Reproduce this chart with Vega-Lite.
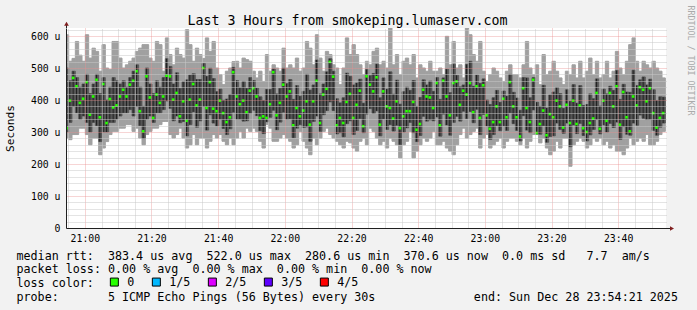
{
  "$schema": "https://vega.github.io/schema/vega-lite/v6.json",
  "width": 600,
  "height": 200,
  "autosize": {"type": "none"},
  "padding": {"left": 66, "top": 28, "right": 31, "bottom": 82},
  "background": "#f2f2f2",
  "config": {
    "view": {"stroke": null, "fill": "#ffffff"},
    "font": "DejaVu Sans Mono",
    "axis": {"labelFont": "DejaVu Sans Mono", "titleFont": "DejaVu Sans Mono", "labelColor": "#000000", "titleColor": "#000000", "titleFontWeight": "normal", "tickSize": 0, "ticks": false}
  },
  "data": {"values": [
{"t":"2025-12-28T20:54:00Z","lo":281,"q1":300,"md":312,"q3":500,"hi":604,"loss":"0"},
{"t":"2025-12-28T20:55:00Z","lo":276,"q1":330,"md":398,"q3":460,"hi":521,"loss":"0"},
{"t":"2025-12-28T20:56:00Z","lo":292,"q1":380,"md":469,"q3":490,"hi":530,"loss":"0"},
{"t":"2025-12-28T20:57:00Z","lo":292,"q1":360,"md":443,"q3":470,"hi":583,"loss":"0"},
{"t":"2025-12-28T20:58:00Z","lo":312,"q1":340,"md":391,"q3":440,"hi":540,"loss":"0"},
{"t":"2025-12-28T20:59:00Z","lo":312,"q1":350,"md":404,"q3":450,"hi":521,"loss":"0"},
{"t":"2025-12-28T21:00:00Z","lo":292,"q1":330,"md":456,"q3":480,"hi":604,"loss":"0"},
{"t":"2025-12-28T21:01:00Z","lo":260,"q1":300,"md":354,"q3":420,"hi":531,"loss":"0"},
{"t":"2025-12-28T21:02:00Z","lo":281,"q1":330,"md":411,"q3":450,"hi":562,"loss":"0"},
{"t":"2025-12-28T21:03:00Z","lo":281,"q1":320,"md":463,"q3":480,"hi":552,"loss":"0"},
{"t":"2025-12-28T21:04:00Z","lo":229,"q1":270,"md":346,"q3":420,"hi":490,"loss":"0"},
{"t":"2025-12-28T21:05:00Z","lo":250,"q1":300,"md":450,"q3":470,"hi":573,"loss":"0"},
{"t":"2025-12-28T21:06:00Z","lo":270,"q1":300,"md":328,"q3":400,"hi":500,"loss":"0"},
{"t":"2025-12-28T21:07:00Z","lo":292,"q1":330,"md":403,"q3":440,"hi":495,"loss":"0"},
{"t":"2025-12-28T21:08:00Z","lo":302,"q1":330,"md":377,"q3":470,"hi":583,"loss":"0"},
{"t":"2025-12-28T21:09:00Z","lo":302,"q1":340,"md":383,"q3":460,"hi":583,"loss":"0"},
{"t":"2025-12-28T21:10:00Z","lo":312,"q1":350,"md":411,"q3":450,"hi":531,"loss":"0"},
{"t":"2025-12-28T21:11:00Z","lo":312,"q1":360,"md":432,"q3":460,"hi":500,"loss":"0"},
{"t":"2025-12-28T21:12:00Z","lo":323,"q1":360,"md":411,"q3":440,"hi":510,"loss":"0"},
{"t":"2025-12-28T21:13:00Z","lo":323,"q1":370,"md":448,"q3":470,"hi":521,"loss":"0"},
{"t":"2025-12-28T21:14:00Z","lo":302,"q1":350,"md":460,"q3":490,"hi":531,"loss":"0"},
{"t":"2025-12-28T21:15:00Z","lo":312,"q1":380,"md":490,"q3":510,"hi":552,"loss":"0"},
{"t":"2025-12-28T21:16:00Z","lo":281,"q1":320,"md":365,"q3":440,"hi":562,"loss":"0"},
{"t":"2025-12-28T21:17:00Z","lo":260,"q1":280,"md":302,"q3":380,"hi":573,"loss":"0"},
{"t":"2025-12-28T21:18:00Z","lo":292,"q1":340,"md":474,"q3":500,"hi":573,"loss":"0"},
{"t":"2025-12-28T21:19:00Z","lo":302,"q1":350,"md":408,"q3":450,"hi":531,"loss":"0"},
{"t":"2025-12-28T21:20:00Z","lo":312,"q1":330,"md":344,"q3":420,"hi":521,"loss":"0"},
{"t":"2025-12-28T21:21:00Z","lo":312,"q1":360,"md":417,"q3":460,"hi":583,"loss":"0"},
{"t":"2025-12-28T21:22:00Z","lo":323,"q1":360,"md":391,"q3":440,"hi":573,"loss":"0"},
{"t":"2025-12-28T21:23:00Z","lo":333,"q1":370,"md":411,"q3":470,"hi":490,"loss":"0"},
{"t":"2025-12-28T21:24:00Z","lo":333,"q1":397,"md":476,"q3":529,"hi":594,"loss":"0"},
{"t":"2025-12-28T21:25:00Z","lo":292,"q1":374,"md":474,"q3":505,"hi":542,"loss":"0"},
{"t":"2025-12-28T21:26:00Z","lo":281,"q1":335,"md":401,"q3":450,"hi":510,"loss":"0"},
{"t":"2025-12-28T21:27:00Z","lo":292,"q1":350,"md":422,"q3":485,"hi":562,"loss":"0"},
{"t":"2025-12-28T21:28:00Z","lo":312,"q1":329,"md":349,"q3":436,"hi":542,"loss":"0"},
{"t":"2025-12-28T21:29:00Z","lo":281,"q1":333,"md":396,"q3":457,"hi":531,"loss":"0"},
{"t":"2025-12-28T21:30:00Z","lo":250,"q1":288,"md":335,"q3":463,"hi":620,"loss":"0"},
{"t":"2025-12-28T21:31:00Z","lo":260,"q1":323,"md":401,"q3":478,"hi":573,"loss":"0"},
{"t":"2025-12-28T21:32:00Z","lo":292,"q1":363,"md":450,"q3":482,"hi":521,"loss":"0"},
{"t":"2025-12-28T21:33:00Z","lo":260,"q1":315,"md":383,"q3":464,"hi":562,"loss":"0"},
{"t":"2025-12-28T21:34:00Z","lo":281,"q1":335,"md":401,"q3":464,"hi":542,"loss":"0"},
{"t":"2025-12-28T21:35:00Z","lo":281,"q1":380,"md":500,"q3":514,"hi":530,"loss":"0"},
{"t":"2025-12-28T21:36:00Z","lo":250,"q1":306,"md":375,"q3":474,"hi":594,"loss":"0"},
{"t":"2025-12-28T21:37:00Z","lo":271,"q1":354,"md":456,"q3":499,"hi":552,"loss":"0"},
{"t":"2025-12-28T21:38:00Z","lo":292,"q1":328,"md":373,"q3":467,"hi":583,"loss":"0"},
{"t":"2025-12-28T21:39:00Z","lo":281,"q1":319,"md":365,"q3":426,"hi":500,"loss":"0"},
{"t":"2025-12-28T21:40:00Z","lo":292,"q1":340,"md":398,"q3":434,"hi":479,"loss":"0"},
{"t":"2025-12-28T21:41:00Z","lo":271,"q1":311,"md":359,"q3":399,"hi":448,"loss":"0"},
{"t":"2025-12-28T21:42:00Z","lo":260,"q1":292,"md":331,"q3":403,"hi":490,"loss":"0"},
{"t":"2025-12-28T21:43:00Z","lo":281,"q1":310,"md":346,"q3":417,"hi":500,"loss":"0"},
{"t":"2025-12-28T21:44:00Z","lo":260,"q1":362,"md":487,"q3":502,"hi":520,"loss":"0"},
{"t":"2025-12-28T21:45:00Z","lo":281,"q1":340,"md":411,"q3":461,"hi":521,"loss":"0"},
{"t":"2025-12-28T21:46:00Z","lo":302,"q1":340,"md":387,"q3":438,"hi":500,"loss":"0"},
{"t":"2025-12-28T21:47:00Z","lo":281,"q1":334,"md":398,"q3":458,"hi":531,"loss":"0"},
{"t":"2025-12-28T21:48:00Z","lo":312,"q1":335,"md":362,"q3":436,"hi":526,"loss":"0"},
{"t":"2025-12-28T21:49:00Z","lo":302,"q1":359,"md":429,"q3":470,"hi":521,"loss":"0"},
{"t":"2025-12-28T21:50:00Z","lo":312,"q1":368,"md":437,"q3":461,"hi":490,"loss":"0"},
{"t":"2025-12-28T21:51:00Z","lo":302,"q1":351,"md":411,"q3":437,"hi":469,"loss":"0"},
{"t":"2025-12-28T21:52:00Z","lo":271,"q1":304,"md":344,"q3":410,"hi":490,"loss":"0"},
{"t":"2025-12-28T21:53:00Z","lo":250,"q1":295,"md":349,"q3":398,"hi":458,"loss":"0"},
{"t":"2025-12-28T21:54:00Z","lo":323,"q1":332,"md":344,"q3":433,"hi":542,"loss":"0"},
{"t":"2025-12-28T21:55:00Z","lo":312,"q1":346,"md":387,"q3":433,"hi":490,"loss":"0"},
{"t":"2025-12-28T21:56:00Z","lo":271,"q1":368,"md":487,"q3":497,"hi":510,"loss":"0"},
{"t":"2025-12-28T21:57:00Z","lo":271,"q1":307,"md":352,"q3":419,"hi":500,"loss":"0"},
{"t":"2025-12-28T21:58:00Z","lo":281,"q1":331,"md":391,"q3":436,"hi":490,"loss":"0"},
{"t":"2025-12-28T21:59:00Z","lo":292,"q1":362,"md":448,"q3":499,"hi":562,"loss":"0"},
{"t":"2025-12-28T22:00:00Z","lo":281,"q1":340,"md":411,"q3":451,"hi":500,"loss":"0"},
{"t":"2025-12-28T22:01:00Z","lo":271,"q1":341,"md":427,"q3":464,"hi":510,"loss":"0"},
{"t":"2025-12-28T22:02:00Z","lo":250,"q1":282,"md":321,"q3":402,"hi":500,"loss":"0"},
{"t":"2025-12-28T22:03:00Z","lo":260,"q1":312,"md":375,"q3":445,"hi":531,"loss":"0"},
{"t":"2025-12-28T22:04:00Z","lo":302,"q1":323,"md":349,"q3":412,"hi":490,"loss":"0"},
{"t":"2025-12-28T22:05:00Z","lo":271,"q1":314,"md":367,"q3":427,"hi":500,"loss":"0"},
{"t":"2025-12-28T22:06:00Z","lo":250,"q1":316,"md":396,"q3":480,"hi":583,"loss":"0"},
{"t":"2025-12-28T22:07:00Z","lo":229,"q1":271,"md":323,"q3":431,"hi":562,"loss":"0"},
{"t":"2025-12-28T22:08:00Z","lo":281,"q1":333,"md":396,"q3":447,"hi":510,"loss":"0"},
{"t":"2025-12-28T22:09:00Z","lo":260,"q1":350,"md":460,"q3":525,"hi":604,"loss":"0"},
{"t":"2025-12-28T22:10:00Z","lo":281,"q1":302,"md":328,"q3":419,"hi":531,"loss":"0"},
{"t":"2025-12-28T22:11:00Z","lo":302,"q1":354,"md":417,"q3":450,"hi":490,"loss":"0"},
{"t":"2025-12-28T22:12:00Z","lo":312,"q1":367,"md":435,"q3":488,"hi":552,"loss":"0"},
{"t":"2025-12-28T22:13:00Z","lo":292,"q1":394,"md":519,"q3":529,"hi":542,"loss":"0"},
{"t":"2025-12-28T22:14:00Z","lo":281,"q1":367,"md":473,"q3":490,"hi":510,"loss":"0"},
{"t":"2025-12-28T22:15:00Z","lo":271,"q1":294,"md":321,"q3":404,"hi":500,"loss":"0"},
{"t":"2025-12-28T22:16:00Z","lo":260,"q1":298,"md":344,"q3":391,"hi":448,"loss":"0"},
{"t":"2025-12-28T22:17:00Z","lo":250,"q1":285,"md":328,"q3":407,"hi":500,"loss":"0"},
{"t":"2025-12-28T22:18:00Z","lo":271,"q1":326,"md":394,"q3":484,"hi":594,"loss":"0"},
{"t":"2025-12-28T22:19:00Z","lo":266,"q1":335,"md":419,"q3":474,"hi":542,"loss":"0"},
{"t":"2025-12-28T22:20:00Z","lo":250,"q1":292,"md":344,"q3":447,"hi":573,"loss":"0"},
{"t":"2025-12-28T22:21:00Z","lo":240,"q1":305,"md":385,"q3":453,"hi":542,"loss":"0"},
{"t":"2025-12-28T22:22:00Z","lo":271,"q1":342,"md":429,"q3":465,"hi":510,"loss":"0"},
{"t":"2025-12-28T22:23:00Z","lo":281,"q1":298,"md":318,"q3":390,"hi":479,"loss":"0"},
{"t":"2025-12-28T22:24:00Z","lo":260,"q1":356,"md":474,"q3":495,"hi":521,"loss":"0"},
{"t":"2025-12-28T22:25:00Z","lo":312,"q1":373,"md":448,"q3":476,"hi":510,"loss":"0"},
{"t":"2025-12-28T22:26:00Z","lo":302,"q1":358,"md":427,"q3":483,"hi":552,"loss":"0"},
{"t":"2025-12-28T22:27:00Z","lo":281,"q1":366,"md":471,"q3":512,"hi":562,"loss":"0"},
{"t":"2025-12-28T22:28:00Z","lo":260,"q1":288,"md":323,"q3":407,"hi":510,"loss":"0"},
{"t":"2025-12-28T22:29:00Z","lo":271,"q1":341,"md":427,"q3":469,"hi":521,"loss":"0"},
{"t":"2025-12-28T22:30:00Z","lo":250,"q1":308,"md":380,"q3":434,"hi":500,"loss":"0"},
{"t":"2025-12-28T22:31:00Z","lo":281,"q1":323,"md":375,"q3":488,"hi":625,"loss":"0"},
{"t":"2025-12-28T22:32:00Z","lo":271,"q1":303,"md":342,"q3":418,"hi":510,"loss":"0"},
{"t":"2025-12-28T22:33:00Z","lo":260,"q1":321,"md":396,"q3":462,"hi":542,"loss":"0"},
{"t":"2025-12-28T22:34:00Z","lo":219,"q1":261,"md":312,"q3":387,"hi":479,"loss":"0"},
{"t":"2025-12-28T22:35:00Z","lo":260,"q1":300,"md":349,"q3":426,"hi":521,"loss":"0"},
{"t":"2025-12-28T22:36:00Z","lo":271,"q1":313,"md":365,"q3":440,"hi":531,"loss":"0"},
{"t":"2025-12-28T22:37:00Z","lo":302,"q1":330,"md":365,"q3":430,"hi":510,"loss":"0"},
{"t":"2025-12-28T22:38:00Z","lo":219,"q1":298,"md":394,"q3":461,"hi":542,"loss":"0"},
{"t":"2025-12-28T22:39:00Z","lo":240,"q1":270,"md":307,"q3":380,"hi":469,"loss":"0"},
{"t":"2025-12-28T22:40:00Z","lo":260,"q1":289,"md":325,"q3":408,"hi":510,"loss":"0"},
{"t":"2025-12-28T22:41:00Z","lo":281,"q1":349,"md":432,"q3":463,"hi":500,"loss":"0"},
{"t":"2025-12-28T22:42:00Z","lo":271,"q1":334,"md":411,"q3":447,"hi":490,"loss":"0"},
{"t":"2025-12-28T22:43:00Z","lo":281,"q1":338,"md":408,"q3":459,"hi":521,"loss":"0"},
{"t":"2025-12-28T22:44:00Z","lo":302,"q1":335,"md":375,"q3":427,"hi":490,"loss":"0"},
{"t":"2025-12-28T22:45:00Z","lo":260,"q1":347,"md":453,"q3":470,"hi":490,"loss":"0"},
{"t":"2025-12-28T22:46:00Z","lo":260,"q1":287,"md":321,"q3":402,"hi":500,"loss":"0"},
{"t":"2025-12-28T22:47:00Z","lo":271,"q1":356,"md":460,"q3":469,"hi":479,"loss":"0"},
{"t":"2025-12-28T22:48:00Z","lo":250,"q1":322,"md":411,"q3":496,"hi":599,"loss":"0"},
{"t":"2025-12-28T22:49:00Z","lo":240,"q1":290,"md":352,"q3":423,"hi":510,"loss":"0"},
{"t":"2025-12-28T22:50:00Z","lo":229,"q1":330,"md":453,"q3":512,"hi":583,"loss":"0"},
{"t":"2025-12-28T22:51:00Z","lo":260,"q1":349,"md":458,"q3":477,"hi":500,"loss":"0"},
{"t":"2025-12-28T22:52:00Z","lo":292,"q1":334,"md":385,"q3":441,"hi":510,"loss":"0"},
{"t":"2025-12-28T22:53:00Z","lo":312,"q1":365,"md":429,"q3":447,"hi":469,"loss":"0"},
{"t":"2025-12-28T22:54:00Z","lo":281,"q1":342,"md":417,"q3":511,"hi":625,"loss":"0"},
{"t":"2025-12-28T22:55:00Z","lo":292,"q1":364,"md":453,"q3":521,"hi":604,"loss":"0"},
{"t":"2025-12-28T22:56:00Z","lo":302,"q1":329,"md":362,"q3":443,"hi":542,"loss":"0"},
{"t":"2025-12-28T22:57:00Z","lo":312,"q1":371,"md":443,"q3":478,"hi":521,"loss":"0"},
{"t":"2025-12-28T22:58:00Z","lo":250,"q1":292,"md":344,"q3":452,"hi":583,"loss":"0"},
{"t":"2025-12-28T22:59:00Z","lo":281,"q1":355,"md":446,"q3":466,"hi":490,"loss":"0"},
{"t":"2025-12-28T23:00:00Z","lo":292,"q1":319,"md":352,"q3":400,"hi":458,"loss":"0"},
{"t":"2025-12-28T23:01:00Z","lo":250,"q1":277,"md":310,"q3":386,"hi":479,"loss":"0"},
{"t":"2025-12-28T23:02:00Z","lo":260,"q1":292,"md":331,"q3":407,"hi":500,"loss":"0"},
{"t":"2025-12-28T23:03:00Z","lo":271,"q1":320,"md":380,"q3":430,"hi":490,"loss":"0"},
{"t":"2025-12-28T23:04:00Z","lo":281,"q1":304,"md":331,"q3":393,"hi":469,"loss":"0"},
{"t":"2025-12-28T23:05:00Z","lo":250,"q1":319,"md":404,"q3":428,"hi":458,"loss":"0"},
{"t":"2025-12-28T23:06:00Z","lo":271,"q1":305,"md":346,"q3":412,"hi":490,"loss":"0"},
{"t":"2025-12-28T23:07:00Z","lo":281,"q1":360,"md":456,"q3":480,"hi":510,"loss":"0"},
{"t":"2025-12-28T23:08:00Z","lo":281,"q1":326,"md":380,"q3":424,"hi":479,"loss":"0"},
{"t":"2025-12-28T23:09:00Z","lo":271,"q1":305,"md":346,"q3":406,"hi":479,"loss":"0"},
{"t":"2025-12-28T23:10:00Z","lo":260,"q1":272,"md":286,"q3":368,"hi":469,"loss":"0"},
{"t":"2025-12-28T23:11:00Z","lo":281,"q1":351,"md":437,"q3":470,"hi":510,"loss":"0"},
{"t":"2025-12-28T23:12:00Z","lo":250,"q1":306,"md":375,"q3":469,"hi":583,"loss":"0"},
{"t":"2025-12-28T23:13:00Z","lo":271,"q1":298,"md":331,"q3":407,"hi":500,"loss":"0"},
{"t":"2025-12-28T23:14:00Z","lo":292,"q1":369,"md":463,"q3":470,"hi":479,"loss":"0"},
{"t":"2025-12-28T23:15:00Z","lo":292,"q1":294,"md":297,"q3":393,"hi":510,"loss":"0"},
{"t":"2025-12-28T23:16:00Z","lo":266,"q1":293,"md":325,"q3":380,"hi":448,"loss":"0"},
{"t":"2025-12-28T23:17:00Z","lo":281,"q1":320,"md":367,"q3":446,"hi":542,"loss":"0"},
{"t":"2025-12-28T23:18:00Z","lo":250,"q1":268,"md":290,"q3":375,"hi":479,"loss":"0"},
{"t":"2025-12-28T23:19:00Z","lo":229,"q1":286,"md":356,"q3":416,"hi":490,"loss":"0"},
{"t":"2025-12-28T23:20:00Z","lo":240,"q1":288,"md":346,"q3":425,"hi":521,"loss":"0"},
{"t":"2025-12-28T23:21:00Z","lo":271,"q1":328,"md":398,"q3":439,"hi":490,"loss":"0"},
{"t":"2025-12-28T23:22:00Z","lo":250,"q1":308,"md":380,"q3":420,"hi":469,"loss":"0"},
{"t":"2025-12-28T23:23:00Z","lo":281,"q1":296,"md":314,"q3":374,"hi":448,"loss":"0"},
{"t":"2025-12-28T23:24:00Z","lo":281,"q1":328,"md":385,"q3":432,"hi":490,"loss":"0"},
{"t":"2025-12-28T23:25:00Z","lo":193,"q1":254,"md":328,"q3":396,"hi":479,"loss":"0"},
{"t":"2025-12-28T23:26:00Z","lo":260,"q1":322,"md":398,"q3":448,"hi":510,"loss":"0"},
{"t":"2025-12-28T23:27:00Z","lo":271,"q1":295,"md":325,"q3":390,"hi":469,"loss":"0"},
{"t":"2025-12-28T23:28:00Z","lo":281,"q1":327,"md":383,"q3":445,"hi":521,"loss":"0"},
{"t":"2025-12-28T23:29:00Z","lo":271,"q1":289,"md":312,"q3":383,"hi":469,"loss":"0"},
{"t":"2025-12-28T23:30:00Z","lo":250,"q1":272,"md":300,"q3":386,"hi":490,"loss":"0"},
{"t":"2025-12-28T23:31:00Z","lo":260,"q1":291,"md":328,"q3":419,"hi":531,"loss":"0"},
{"t":"2025-12-28T23:32:00Z","lo":281,"q1":308,"md":342,"q3":404,"hi":479,"loss":"0"},
{"t":"2025-12-28T23:33:00Z","lo":271,"q1":339,"md":422,"q3":466,"hi":521,"loss":"0"},
{"t":"2025-12-28T23:34:00Z","lo":281,"q1":294,"md":310,"q3":381,"hi":469,"loss":"0"},
{"t":"2025-12-28T23:35:00Z","lo":260,"q1":322,"md":398,"q3":434,"hi":479,"loss":"0"},
{"t":"2025-12-28T23:36:00Z","lo":271,"q1":300,"md":335,"q3":419,"hi":521,"loss":"0"},
{"t":"2025-12-28T23:37:00Z","lo":250,"q1":327,"md":422,"q3":443,"hi":469,"loss":"0"},
{"t":"2025-12-28T23:38:00Z","lo":260,"q1":314,"md":380,"q3":430,"hi":490,"loss":"0"},
{"t":"2025-12-28T23:39:00Z","lo":240,"q1":331,"md":443,"q3":492,"hi":552,"loss":"0"},
{"t":"2025-12-28T23:40:00Z","lo":240,"q1":277,"md":323,"q3":402,"hi":500,"loss":"0"},
{"t":"2025-12-28T23:41:00Z","lo":229,"q1":317,"md":425,"q3":449,"hi":479,"loss":"0"},
{"t":"2025-12-28T23:42:00Z","lo":250,"q1":293,"md":346,"q3":425,"hi":521,"loss":"0"},
{"t":"2025-12-28T23:43:00Z","lo":281,"q1":290,"md":302,"q3":424,"hi":573,"loss":"0"},
{"t":"2025-12-28T23:44:00Z","lo":260,"q1":328,"md":411,"q3":493,"hi":594,"loss":"0"},
{"t":"2025-12-28T23:45:00Z","lo":271,"q1":321,"md":383,"q3":445,"hi":521,"loss":"0"},
{"t":"2025-12-28T23:46:00Z","lo":281,"q1":353,"md":440,"q3":463,"hi":490,"loss":"0"},
{"t":"2025-12-28T23:47:00Z","lo":271,"q1":343,"md":432,"q3":472,"hi":521,"loss":"0"},
{"t":"2025-12-28T23:48:00Z","lo":292,"q1":339,"md":396,"q3":447,"hi":510,"loss":"0"},
{"t":"2025-12-28T23:49:00Z","lo":260,"q1":340,"md":437,"q3":465,"hi":500,"loss":"0"},
{"t":"2025-12-28T23:50:00Z","lo":260,"q1":305,"md":359,"q3":432,"hi":521,"loss":"0"},
{"t":"2025-12-28T23:51:00Z","lo":271,"q1":290,"md":314,"q3":398,"hi":500,"loss":"0"},
{"t":"2025-12-28T23:52:00Z","lo":292,"q1":315,"md":344,"q3":410,"hi":490,"loss":"0"},
{"t":"2025-12-28T23:53:00Z","lo":302,"q1":328,"md":359,"q3":409,"hi":469,"loss":"0"}
  ]},
  "resolve": {"axis": {"x": "independent", "y": "independent"}},
  "layer": [
    {
      "mark": {"type": "bar", "color": "#a0a0a0", "stroke": "#a0a0a0", "strokeWidth": 1, "binSpacing": 0, "clip": true},
      "encoding": {
        "x": {"field": "t", "type": "temporal", "timeUnit": "utcyearmonthdatehoursminutes",
          "scale": {"type": "utc", "domain": [1766955261000, 1766966061000]},
          "axis": {
            "values": [1766955600000, 1766956800000, 1766958000000, 1766959200000, 1766960400000, 1766961600000, 1766962800000, 1766964000000, 1766965200000],
            "labelExpr": "utcFormat(datum.value, '%H:%M')",
            "labelFontSize": 9.8, "labelPadding": 5, "labelFlush": false, "labelOverlap": false,
            "grid": true, "gridColor": "#e98f8f", "gridDash": [1, 1], "gridOpacity": 0.75,
            "domain": true, "domainColor": "#1f1f1f", "domainWidth": 1, "zindex": 1,
            "title": ["median rtt:\u00a0\u00a0383.4 us avg\u00a0\u00a0522.0 us max\u00a0\u00a0280.6 us min\u00a0\u00a0370.6 us now\u00a0\u00a00.0 ms sd\u00a0\u00a0\u00a07.7\u00a0\u00a0am/s", "packet loss: 0.00 % avg\u00a0\u00a00.00 % max\u00a0\u00a00.00 % min\u00a0\u00a00.00 % now", "loss color:", "probe:\u00a0\u00a0\u00a0\u00a0\u00a0\u00a0\u00a05 ICMP Echo Pings (56 Bytes) every 30s\u00a0\u00a0\u00a0\u00a0\u00a0\u00a0\u00a0\u00a0\u00a0\u00a0\u00a0\u00a0\u00a0\u00a0end: Sun Dec 28 23:54:21 2025"],
            "titleFontSize": 11.7, "titleLineHeight": 13.8, "titleX": -50, "titleY": 31,
            "titleAlign": "left", "titleAnchor": "start", "titleBaseline": "alphabetic", "titleAngle": 0
          }},
        "y": {"field": "lo", "type": "quantitative",
          "scale": {"domain": [0, 625], "nice": false, "zero": true},
          "axis": {
            "values": [0, 100, 200, 300, 400, 500, 600],
            "labelExpr": "datum.value == 0 ? '0' : datum.value + ' u'",
            "labelFontSize": 9.8, "labelPadding": 6, "grid": false,
            "domain": true, "domainColor": "#1f1f1f", "domainWidth": 1, "zindex": 1,
            "title": "Seconds", "titleFontSize": 11.1, "titleX": -56, "titleY": 100,
            "titleAngle": 270, "titleAlign": "center", "titleBaseline": "middle"
          }},
        "y2": {"field": "hi"}
      }
    },
    {
      "mark": {"type": "bar", "color": "#555555", "stroke": "#555555", "strokeWidth": 0.8, "binSpacing": 0, "clip": true},
      "encoding": {
        "x": {"field": "t", "type": "temporal", "timeUnit": "utcyearmonthdatehoursminutes",
          "axis": {
            "values": [1766955300000, 1766955900000, 1766956200000, 1766956500000, 1766957100000, 1766957400000, 1766957700000, 1766958300000, 1766958600000, 1766958900000, 1766959500000, 1766959800000, 1766960100000, 1766960700000, 1766961000000, 1766961300000, 1766961900000, 1766962200000, 1766962500000, 1766963100000, 1766963400000, 1766963700000, 1766964300000, 1766964600000, 1766964900000, 1766965500000, 1766965800000],
            "labels": false, "domain": false, "grid": true, "gridColor": "#c8c8c8", "gridDash": [1, 1], "zindex": 1, "title": null
          }},
        "y": {"field": "q1", "type": "quantitative",
          "axis": {
            "values": [100, 200, 300, 400, 500, 600],
            "labels": false, "domain": false, "grid": true, "gridColor": "#e98f8f", "gridDash": [1, 1], "gridOpacity": 0.75, "zindex": 1, "title": null
          }},
        "y2": {"field": "q3"}
      }
    },
    {
      "mark": {"type": "rule", "color": "#222222", "strokeWidth": 1, "clip": true},
      "encoding": {
        "x": {"field": "t", "type": "temporal", "timeUnit": "utcyearmonthdatehoursminutes", "bandPosition": 0.5,
          "axis": {
            "orient": "top", "labels": false, "domain": false, "grid": false,
            "title": "Last 3 Hours from smokeping.lumaserv.com", "titleFontSize": 13.3,
            "titleX": 281, "titleY": -4, "titleAlign": "center", "titleBaseline": "alphabetic", "titleAngle": 0
          }},
        "y": {"field": "q1", "type": "quantitative",
          "axis": {
            "orient": "right", "labels": false, "domain": false, "grid": false,
            "title": "RRDTOOL / TOBI OETIKER", "titleFontSize": 8.3, "titleColor": "#aaaaaa",
            "titleX": 23, "titleY": -23, "titleAngle": 90, "titleAlign": "left", "titleBaseline": "middle"
          }},
        "y2": {"field": "q3"}
      }
    },
    {
      "mark": {"type": "square", "size": 7, "opacity": 1, "filled": true, "clip": true},
      "encoding": {
        "x": {"field": "t", "type": "temporal", "timeUnit": "utcyearmonthdatehoursminutes", "bandPosition": 0.5, "axis": null},
        "y": {"field": "md", "type": "quantitative",
          "axis": {
            "values": [20, 40, 60, 80, 120, 140, 160, 180, 220, 240, 260, 280, 320, 340, 360, 380, 420, 440, 460, 480, 520, 540, 560, 580, 620],
            "labels": false, "domain": false, "grid": true, "gridColor": "#c8c8c8", "gridDash": [1, 1], "zindex": 1, "title": null
          }},
        "color": {"field": "loss", "type": "nominal",
          "scale": {"domain": ["0", "1/5", "2/5", "3/5", "4/5"], "range": ["#26ff00", "#00b8ff", "#dd00ff", "#5e00ff", "#ff0000"]},
          "legend": {
            "orient": "none", "legendX": 42.5, "legendY": 248, "direction": "horizontal", "title": null,
            "labelFont": "DejaVu Sans Mono", "labelFontSize": 11.7, "labelColor": "#000000",
            "labelOffset": 7, "columnPadding": 15, "padding": 0, "symbolType": "square", "symbolSize": 64,
            "symbolStrokeColor": "#000000", "symbolStrokeWidth": 1,
            "encode": {"symbols": {"update": {"stroke": {"value": "#000000"}, "strokeWidth": {"value": 1}, "size": {"value": 64}, "shape": {"value": "square"}, "opacity": {"value": 1}}}}
          }}
      }
    },
    {
      "data": {"values": [{}]},
      "mark": {"type": "rule", "color": "#1f1f1f", "clip": false, "xOffset": 0.5},
      "encoding": {
        "x": {"datum": 1766955261000, "type": "temporal", "axis": null},
        "y": {"datum": 625, "type": "quantitative", "axis": null},
        "y2": {"datum": 641}
      }
    },
    {
      "data": {"values": [{}]},
      "mark": {"type": "rule", "color": "#1f1f1f", "clip": false, "yOffset": 0.5},
      "encoding": {
        "x": {"datum": 1766966061000, "type": "temporal", "axis": null},
        "x2": {"datum": 1766966151000},
        "y": {"datum": 0, "type": "quantitative", "axis": null}
      }
    },
    {
      "data": {"values": [{}]},
      "mark": {"type": "point", "shape": "triangle-up", "filled": true, "color": "#801f1f", "size": 22, "opacity": 1, "clip": false, "xOffset": 0.5},
      "encoding": {
        "x": {"datum": 1766955261000, "type": "temporal", "axis": null},
        "y": {"datum": 638, "type": "quantitative", "axis": null}
      }
    },
    {
      "data": {"values": [{}]},
      "mark": {"type": "point", "shape": "triangle-right", "filled": true, "color": "#801f1f", "size": 22, "opacity": 1, "clip": false, "yOffset": 0.5},
      "encoding": {
        "x": {"datum": 1766966169000, "type": "temporal", "axis": null},
        "y": {"datum": 0, "type": "quantitative", "axis": null}
      }
    }
  ]
}
